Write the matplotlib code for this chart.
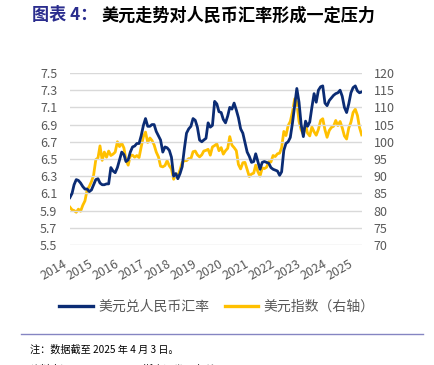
import matplotlib.pyplot as plt
import matplotlib.transforms as mtransforms
from matplotlib.lines import Line2D
import pandas as pd

plt.rcParams['font.family'] = ['Noto Sans CJK SC', 'DejaVu Sans']

# monthly values, Jan 2014 - Apr 2025
usdcny = [
    6.05, 6.10, 6.20, 6.26, 6.25, 6.22, 6.18, 6.15, 6.15, 6.12, 6.14, 6.20,
    6.26, 6.27, 6.22, 6.20, 6.20, 6.21, 6.21, 6.40, 6.36, 6.34, 6.40, 6.49,
    6.58, 6.55, 6.47, 6.49, 6.58, 6.64, 6.65, 6.68, 6.68, 6.77, 6.89, 6.97,
    6.88, 6.88, 6.90, 6.90, 6.82, 6.77, 6.72, 6.58, 6.64, 6.63, 6.60, 6.52,
    6.30, 6.33, 6.27, 6.33, 6.41, 6.62, 6.80, 6.85, 6.88, 6.97, 6.95, 6.87,
    6.72, 6.70, 6.72, 6.74, 6.92, 6.87, 6.89, 7.17, 7.14, 7.05, 7.04, 6.96,
    6.92, 7.00, 7.10, 7.08, 7.15, 7.07, 6.98, 6.85, 6.80, 6.69, 6.58, 6.53,
    6.46, 6.47, 6.56, 6.47, 6.38, 6.46, 6.47, 6.46, 6.45, 6.40, 6.38, 6.37,
    6.36, 6.31, 6.35, 6.60, 6.68, 6.70, 6.75, 6.92, 7.12, 7.32, 7.16, 6.90,
    6.76, 6.94, 6.88, 6.93, 7.10, 7.26, 7.16, 7.30, 7.34, 7.35, 7.15, 7.12,
    7.18, 7.21, 7.24, 7.26, 7.27, 7.30, 7.23, 7.10, 7.04, 7.14, 7.27, 7.33,
    7.35, 7.29, 7.27, 7.28,
]
dxy = [
    81.0, 80.2, 80.0, 79.5, 80.4, 79.8, 81.5, 82.8, 86.0, 87.0, 88.4, 90.3,
    94.8, 95.3, 98.8, 94.6, 97.0, 95.5, 97.3, 96.0, 96.4, 97.0, 100.0, 98.6,
    99.6, 98.2, 94.6, 93.2, 95.9, 96.1, 95.5, 96.0, 95.4, 98.5, 101.5, 102.8,
    99.8, 101.1, 100.4, 99.1, 97.0, 95.6, 92.9, 92.7, 93.1, 94.5, 93.0, 92.1,
    89.1, 90.6, 90.1, 91.8, 94.0, 94.5, 94.5, 95.1, 95.1, 97.1, 97.3, 96.2,
    95.6, 96.2, 97.3, 97.5, 97.8, 96.1, 98.5, 98.9, 99.4, 97.4, 98.3, 96.4,
    97.4, 98.1, 101.5, 99.0, 98.3, 97.4, 93.4, 92.1, 93.9, 94.0, 91.9, 89.9,
    90.6, 90.9, 93.2, 91.3, 90.0, 92.4, 92.2, 92.6, 94.2, 94.1, 96.0, 95.7,
    96.5, 96.7, 98.3, 103.0, 101.8, 104.7, 105.9, 108.7, 112.5, 111.5, 105.9, 103.5,
    102.1, 104.9, 102.5, 101.7, 104.3, 102.9, 101.9, 103.6, 106.2, 106.7, 103.5, 101.3,
    103.3, 104.2, 104.5, 106.2, 104.7, 105.9, 104.1, 101.7, 100.8, 104.0, 105.7, 108.5,
    109.5, 107.6, 104.2, 102.0,
]
years = list(range(2014, 2026))
left_ticks = [5.5, 5.7, 5.9, 6.1, 6.3, 6.5, 6.7, 6.9, 7.1, 7.3, 7.5]
right_ticks = [70, 75, 80, 85, 90, 95, 100, 105, 110, 115, 120]

dates = pd.date_range('2014-01-01', periods=len(usdcny), freq='MS')

blue = '#0b2c74'
yellow = '#ffc000'
gray = '#595959'

fig = plt.figure(figsize=(4.34, 3.65), dpi=100)
ax = fig.add_axes([0.161, 0.329, 0.673, 0.471])
ax2 = ax.twinx()

ax.plot(dates, usdcny, color=blue, lw=2.0, zorder=3)
ax2.plot(dates, dxy, color=yellow, lw=2.0, zorder=2)
ax.set_zorder(ax2.get_zorder() + 1)
ax.patch.set_visible(False)

ax.set_ylim(5.5, 7.5)
ax.set_yticks(left_ticks)
ax.set_yticklabels([f'{v:.1f}' for v in left_ticks])
ax2.set_ylim(70, 120)
ax2.set_yticks(right_ticks)
ax.grid(axis='y', color='#d9d9d9', lw=1)
ax.set_xlim(pd.Timestamp('2014-01-01'), pd.Timestamp('2025-04-05'))
ax.set_xticks([pd.Timestamp(f'{y}-01-01') for y in years])
ax.set_xticklabels([str(y) for y in years], rotation=30, ha='right',
                   rotation_mode='anchor')

for a in (ax, ax2):
    for s in a.spines.values():
        s.set_visible(False)
    a.tick_params(length=0, labelsize=9, labelcolor=gray)
ax.tick_params(axis='y', pad=9)
ax2.tick_params(axis='y', pad=8.5)
ax.tick_params(axis='x', pad=9)
shift = mtransforms.ScaledTranslation(-7 / 100, 0, fig.dpi_scale_trans)
for lab in ax.get_xticklabels():
    lab.set_transform(lab.get_transform() + shift)

# title
fig.text(0.074, 0.958, '图表 4：', fontsize=12.3, fontweight='bold',
         color='#2b2d8e', va='center')
fig.text(0.235, 0.958, '美元走势对人民币汇率形成一定压力', fontsize=12.3,
         fontweight='bold', color='black', va='center')

handles = [Line2D([], [], color=blue, lw=2.4), Line2D([], [], color=yellow, lw=2.4)]
fig.legend(handles, ['美元兑人民币汇率', '美元指数（右轴）'], loc='center',
           bbox_to_anchor=(0.5, 0.159), ncol=2, frameon=False, fontsize=10,
           handlelength=2.4, handletextpad=0.4, columnspacing=1.1,
           labelcolor=gray)

fig.add_artist(Line2D([0.048, 0.975], [0.085, 0.085], color='#8585c2', lw=1))
fig.text(0.07, 0.042, '注：数据截至 2025 年 4 月 3 日。', fontsize=7.3, va='center')
fig.text(0.07, -0.011, '资料来源：Bloomberg，浙商证券研究所', fontsize=7.3, va='center')

fig.savefig('out.png', dpi=100)
